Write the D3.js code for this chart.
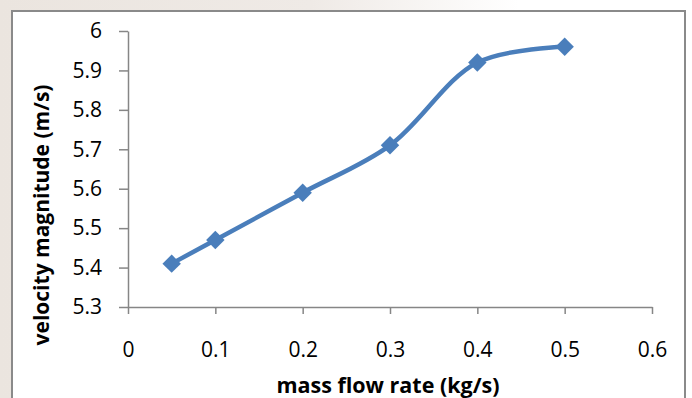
<!DOCTYPE html>
<html>
<head>
<meta charset="utf-8">
<script src="https://cdn.jsdelivr.net/npm/d3@7"></script>
<style>
  body { margin: 0; background: #ffffff; }
  svg { display: block; font-family: "Open Sans", sans-serif; }
</style>
</head>
<body>
<div id="chart"></div>
<script>
// chart values
const massFlow = [0.05, 0.1, 0.2, 0.3, 0.4, 0.5];
const velocity = [5.41, 5.47, 5.59, 5.71, 5.92, 5.96];
const xTicks = [0, 0.1, 0.2, 0.3, 0.4, 0.5, 0.6];
const yTicks = [5.3, 5.4, 5.5, 5.6, 5.7, 5.8, 5.9, 6];
const xTitle = "mass flow rate (kg/s)";
const yTitle = "velocity magnitude (m/s)";

const width = 692, height = 398;
const blue = "#4a7ebb", axisGrey = "#868686";

let svg = d3.select("#chart").append("svg")
    .attr("width", width)
    .attr("height", height);

// faint page background behind the chart frame
let defs = svg.append("defs");
let grad = defs.append("linearGradient").attr("id", "bg").attr("x1", 0).attr("x2", 1);
grad.append("stop").attr("offset", "0%").attr("stop-color", "#ebe5df");
grad.append("stop").attr("offset", "45%").attr("stop-color", "#efeae6");
grad.append("stop").attr("offset", "75%").attr("stop-color", "#ffffff");
svg.append("rect").attr("width", width).attr("height", height).attr("fill", "url(#bg)");

// chart frame
svg.append("rect")
    .attr("x", 12).attr("y", 11)
    .attr("width", 673).attr("height", 400)
    .attr("fill", "#ffffff")
    .attr("stroke", "#8a8a8a")
    .attr("stroke-width", 2);

let x = d3.scaleLinear().domain([0, 0.6]).range([128, 652]);
let y = d3.scaleLinear().domain([5.3, 6]).range([307, 31]);

let xAxis = svg.append("g")
    .attr("transform", "translate(0," + y(5.3) + ")")
    .call(d3.axisBottom(x).tickValues(xTicks).tickSize(7).tickSizeOuter(0).tickPadding(28)
        .tickFormat(d => d === 0 ? "0" : d3.format(".1f")(d)));

let yAxis = svg.append("g")
    .attr("transform", "translate(" + x(0) + ",0)")
    .call(d3.axisLeft(y).tickValues(yTicks).tickSize(9).tickSizeOuter(0).tickPadding(17)
        .tickFormat(d => d === 6 ? "6" : d3.format(".1f")(d)));

[xAxis, yAxis].forEach(g => {
    g.select(".domain").attr("stroke", axisGrey).attr("stroke-width", 1.5);
    g.selectAll(".tick line").attr("stroke", axisGrey).attr("stroke-width", 1.5);
    g.selectAll(".tick text")
        .attr("fill", "#000")
        .style("font-family", "'Open Sans', sans-serif")
        .style("font-size", "21px");
});

// axis titles
svg.append("text")
    .attr("x", 388)
    .attr("y", 393)
    .attr("text-anchor", "middle")
    .attr("font-weight", "bold")
    .attr("font-size", "21.5px")
    .text(xTitle);

svg.append("text")
    .attr("transform", "translate(49,215) rotate(-90)")
    .attr("text-anchor", "middle")
    .attr("font-weight", "bold")
    .attr("font-size", "21px")
    .text(yTitle);

// smoothed series line
let data = massFlow.map((m, i) => ({ x: m, y: velocity[i] }));

let line = d3.line()
    .x(d => x(d.x))
    .y(d => y(d.y))
    .curve(d3.curveCatmullRom.alpha(0.5));

svg.append("path")
    .datum(data)
    .attr("d", line)
    .attr("fill", "none")
    .attr("stroke", blue)
    .attr("stroke-width", 4.5)
    .attr("stroke-linejoin", "round");

// diamond markers
svg.selectAll(".marker")
    .data(data)
    .enter().append("path")
    .attr("class", "marker")
    .attr("d", d3.symbol().type(d3.symbolSquare).size(170))
    .attr("transform", d => "translate(" + x(d.x) + "," + y(d.y) + ") rotate(45)")
    .attr("fill", blue);
</script>
</body>
</html>
